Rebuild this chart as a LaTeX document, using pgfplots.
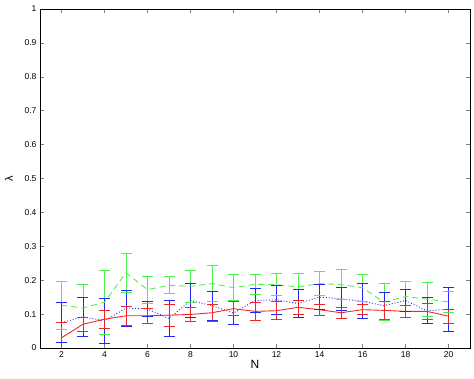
\documentclass[border=0pt]{standalone}
\usepackage{pgfplots}
\pgfplotsset{compat=1.18}
\usepackage{fontspec}
\setmainfont{Liberation Sans}
\definecolor{mred}{rgb}{0.95,0.15,0.15}
\definecolor{mblue}{rgb}{0.15,0.15,0.95}
\definecolor{mgreen}{rgb}{0.3,0.95,0.3}
\begin{document}
\begin{tikzpicture}
\begin{axis}[
  at={(0,0)}, anchor=south west,
  scale only axis,
  width=430pt, height=339pt,
  xmin=1, xmax=21, ymin=0, ymax=1,
  xtick={2,4,...,20},
  ytick={0,0.1,...,1},
  yticklabels={0,0.1,0.2,0.3,0.4,0.5,0.6,0.7,0.8,0.9,1},
  tick align=inside,
  tick pos=both,
  major tick length=4pt,
  tick style={line width=0.4pt},
  axis line style={line width=0.6pt},
  ticklabel style={font=\fontsize{8.5}{10}\selectfont},
  /pgf/number format/assume math mode=true,
  xlabel={N}, ylabel={λ},
  xlabel style={font=\fontsize{12}{14}\selectfont, yshift=4pt},
  ylabel style={font=\fontsize{11}{13}\selectfont, yshift=5pt},
  unbounded coords=jump,
  clip=true,
]
% green error bars (low, high)
\addplot[draw=mgreen, solid, line width=0.8pt, mark=-, mark size=5.5pt,
  mark options={solid, draw=mgreen, line width=0.8pt}] coordinates {
(2,0.056) (2,0.196) (2,nan)
(3,0.048) (3,0.188) (3,nan)
(4,0.040) (4,0.230) (4,nan)
(5,0.164) (5,0.280) (5,nan)
(6,0.132) (6,0.212) (6,nan)
(7,0.160) (7,0.210) (7,nan)
(8,0.135) (8,0.229) (8,nan)
(9,0.137) (9,0.243) (9,nan)
(10,0.140) (10,0.216) (10,nan)
(11,0.158) (11,0.218) (11,nan)
(12,0.155) (12,0.219) (12,nan)
(13,0.140) (13,0.220) (13,nan)
(14,0.155) (14,0.225) (14,nan)
(15,0.142) (15,0.232) (15,nan)
(16,0.138) (16,0.218) (16,nan)
(17,0.080) (17,0.190) (17,nan)
(18,0.107) (18,0.197) (18,nan)
(19,0.094) (19,0.194) (19,nan)
(20,0.106) (20,0.166)
};
% blue error bars
\addplot[draw=mblue, solid, line width=0.8pt, mark=-, mark size=5.5pt,
  mark options={solid, draw=mblue, line width=0.8pt}] coordinates {
(2,0.016) (2,0.134) (2,nan)
(3,0.035) (3,0.149) (3,nan)
(4,0.015) (4,0.145) (4,nan)
(5,0.065) (5,0.171) (5,nan)
(6,0.094) (6,0.136) (6,nan)
(7,0.035) (7,0.139) (7,nan)
(8,0.090) (8,0.190) (8,nan)
(9,0.082) (9,0.168) (9,nan)
(10,0.070) (10,0.136) (10,nan)
(11,0.105) (11,0.175) (11,nan)
(12,0.099) (12,0.185) (12,nan)
(13,0.089) (13,0.173) (13,nan)
(14,0.113) (14,0.187) (14,nan)
(15,0.111) (15,0.179) (15,nan)
(16,0.086) (16,0.190) (16,nan)
(17,0.085) (17,0.165) (17,nan)
(18,0.108) (18,0.172) (18,nan)
(19,0.072) (19,0.148) (19,nan)
(20,0.050) (20,0.178)
};
% red error bars
\addplot[draw=mred, solid, line width=0.8pt, mark=-, mark size=5.5pt,
  mark options={solid, draw=mred, line width=0.8pt}] coordinates {
(2,-0.015) (2,0.075) (2,nan)
(3,0.049) (3,0.091) (3,nan)
(4,0.058) (4,0.112) (4,nan)
(5,0.068) (5,0.122) (5,nan)
(6,0.073) (6,0.117) (6,nan)
(7,0.065) (7,0.129) (7,nan)
(8,0.077) (8,0.121) (8,nan)
(9,0.078) (9,0.130) (9,nan)
(10,0.096) (10,0.136) (10,nan)
(11,0.081) (11,0.135) (11,nan)
(12,0.084) (12,0.136) (12,nan)
(13,0.100) (13,0.140) (13,nan)
(14,0.097) (14,0.129) (14,nan)
(15,0.088) (15,0.120) (15,nan)
(16,0.098) (16,0.128) (16,nan)
(17,0.085) (17,0.137) (17,nan)
(18,0.091) (18,0.125) (18,nan)
(19,0.083) (19,0.133) (19,nan)
(20,0.073) (20,0.115)
};
% mean curves
\addplot[draw=mgreen, dashed, dash pattern=on 6pt off 4pt, line width=0.9pt, mark=none] coordinates {
(2,0.126) (3,0.118) (4,0.135) (5,0.222) (6,0.172) (7,0.185) (8,0.182) (9,0.190) (10,0.178)
(11,0.188) (12,0.187) (13,0.180) (14,0.190) (15,0.187) (16,0.178) (17,0.135) (18,0.152) (19,0.144) (20,0.136)
};
\addplot[draw=mblue, dotted, line width=0.9pt, mark=none] coordinates {
(2,0.075) (3,0.092) (4,0.080) (5,0.118) (6,0.115) (7,0.087) (8,0.140) (9,0.125) (10,0.103)
(11,0.140) (12,0.142) (13,0.131) (14,0.150) (15,0.145) (16,0.138) (17,0.125) (18,0.140) (19,0.110) (20,0.114)
};
\addplot[draw=mred, solid, line width=0.9pt, mark=none] coordinates {
(2,0.030) (3,0.070) (4,0.085) (5,0.095) (6,0.095) (7,0.097) (8,0.099) (9,0.104) (10,0.116)
(11,0.108) (12,0.110) (13,0.120) (14,0.113) (15,0.104) (16,0.113) (17,0.111) (18,0.108) (19,0.108) (20,0.094)
};
\end{axis}
\pgfresetboundingbox
\useasboundingbox (-40pt,-31pt) rectangle (434pt,348pt);
\end{tikzpicture}
\end{document}
